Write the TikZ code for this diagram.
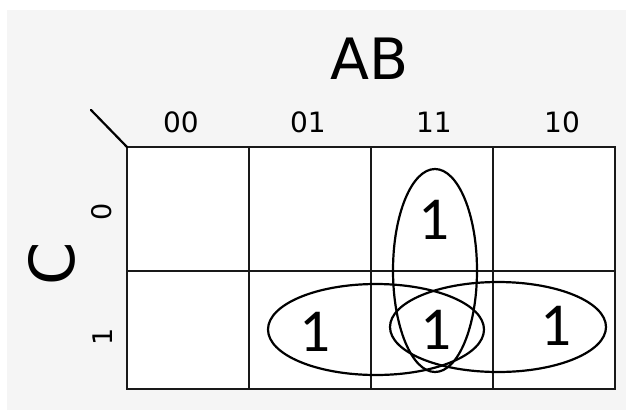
\documentclass[tikz,border=0pt]{standalone}
\usepackage{fontspec}
\setmainfont{DejaVu Sans}
\newfontfamily\onefont{Carlito}
\begin{document}
\begin{tikzpicture}[x=1pt,y=-1pt,
  gridline/.style={line width=2.3pt, draw=black!90},
  loopline/.style={line width=2.2pt, draw=black},
  collabel/.style={inner sep=0pt, font=\fontsize{28}{30}\selectfont},
  rowlabel/.style={inner sep=0pt, rotate=90, font=\fontsize{27}{30}\selectfont},
  biglabel/.style={inner sep=0pt, font=\fontsize{57}{60}\selectfont},
  bigone/.style={inner sep=0pt, font=\onefont\fontsize{61}{64}\selectfont}]
\useasboundingbox (0,0) rectangle (626,410);
\fill[white] (0,0) rectangle (626,410);
\fill[gray!8] (7,10) rectangle (626,410);
% grid corners
\coordinate (tl) at (127,147);
\coordinate (br) at (615,389);
\coordinate (diag) at (91,110);
\fill[white] (tl) rectangle (br);
\draw[gridline] (249,147) -- (249,389);
\draw[gridline] (371,147) -- (371,389);
\draw[gridline] (493,147) -- (493,389);
\draw[gridline] (127,271) -- (615,271);
\draw[gridline] (tl) rectangle (br);
\draw[line width=2.2pt, line cap=round] (diag) -- (tl);
% labels
\node[biglabel] (ab) at (370,59) {AB};
\node[collabel] (c00) at (181,122.5) {00};
\node[collabel] (c01) at (308,122.5) {01};
\node[collabel] (c11) at (434,122.5) {11};
\node[collabel] (c10) at (562,122.5) {10};
\node[biglabel, rotate=90, font=\fontsize{62}{64}\selectfont] (c) at (52,264) {C};
\node[rowlabel] (r0) at (102,212) {0};
\node[rowlabel] (r1) at (103,337) {1};
% ones
\node[bigone] (m7) at (434,220) {1};
\node[bigone] (m3) at (315,332) {1};
\node[bigone] (m7b) at (436,330) {1};
\node[bigone] (m5) at (556,326) {1};
% groups
\draw[loopline] (435,270.5) ellipse [x radius=42, y radius=101.5];
\draw[loopline] (376,329.5) ellipse [x radius=108, y radius=45.5];
\draw[loopline] (498,327) ellipse [x radius=108, y radius=45];
\end{tikzpicture}
\end{document}
